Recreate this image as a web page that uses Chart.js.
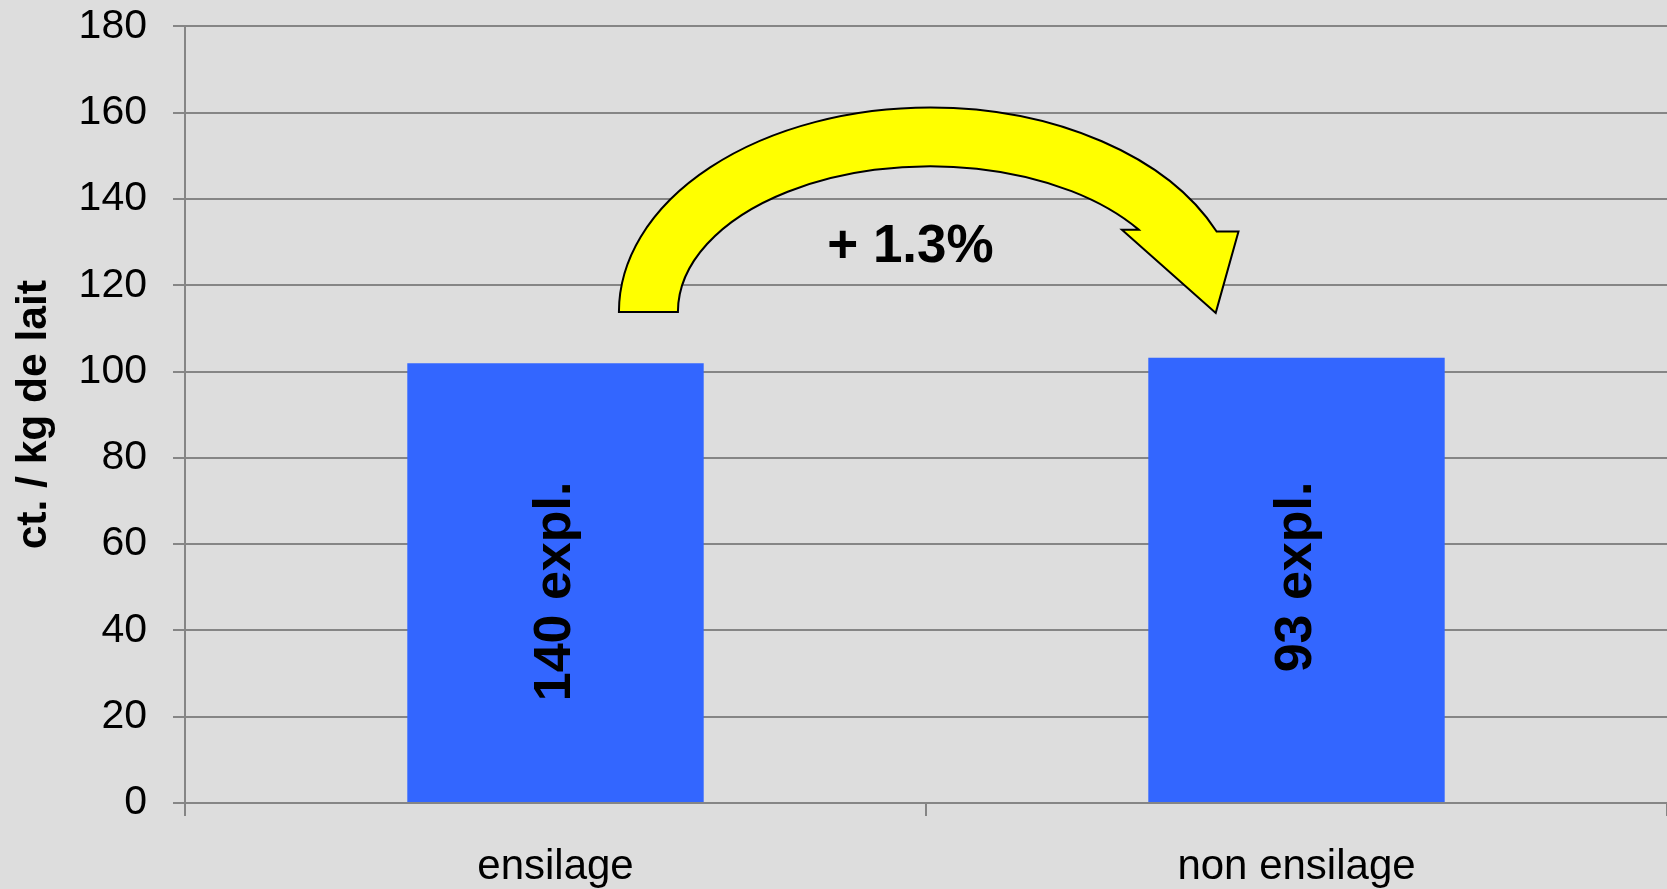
<!DOCTYPE html>
<html>
<head>
<meta charset="utf-8">
<script src="https://cdn.jsdelivr.net/npm/chart.js@4/dist/chart.umd.min.js"></script>
<style>
  html, body { margin: 0; padding: 0; background: #dddddd; }
  #wrap { width: 1667px; height: 889px; position: relative; }
</style>
</head>
<body>
<div id="wrap"><canvas id="c"></canvas></div>
<script>
// ---- data ----
const categories = ['ensilage', 'non ensilage'];
const costValues = [101.9, 103.2];
const farmCounts = ['140 expl.', '93 expl.'];
const yTickMin = 0;
const yTickMax = 180;
const yTickStep = 20;
const yAxisTitle = 'ct. / kg de lait';
const changeLabel = '+ 1.3%';

// ---- styles ----
const BG = '#dddddd';
const BAR = '#3366ff';
const GRID = '#858585';
const FONT = '"Liberation Sans", Arial, sans-serif';

const bgPlugin = {
  id: 'bg',
  beforeDraw(chart) {
    const ctx = chart.ctx;
    ctx.save();
    ctx.fillStyle = BG;
    ctx.fillRect(0, 0, chart.width, chart.height);
    ctx.restore();
  }
};

const annotPlugin = {
  id: 'annot',
  afterDatasetsDraw(chart) {
    const ctx = chart.ctx;
    const xs = chart.scales.x, ys = chart.scales.y;
    const X = v => xs.getPixelForValue(v);
    const Y = v => ys.getPixelForValue(v);

    // labels inside bars (rotated)
    const meta = chart.getDatasetMeta(0);
    ctx.save();
    ctx.fillStyle = '#000';
    ctx.font = 'bold 52px ' + FONT;
    meta.data.forEach((bar, i) => {
      ctx.save();
      ctx.translate(bar.x, Y(74.5));
      ctx.rotate(-Math.PI / 2);
      ctx.textAlign = 'right';
      ctx.textBaseline = 'middle';
      ctx.fillText(farmCounts[i], 0, 0);
      ctx.restore();
    });
    ctx.restore();

    // curved arrow
    const cx = X(0.5059), cy = Y(113.8);
    const rxO = cx - X(0.0856), ryO = cy - Y(161.2);
    const rxI = cx - X(0.1652), ryI = cy - Y(147.6);
    const aO = Math.acos((X(0.8922) - cx) / rxO);
    const aI = Math.acos((X(0.7870) - cx) / rxI);
    const endO = 2 * Math.PI - aO, endI = 2 * Math.PI - aI;
    const oy = cy + ryO * Math.sin(endO);
    const iy = cy + ryI * Math.sin(endI);

    ctx.save();
    ctx.beginPath();
    ctx.ellipse(cx, cy, rxO, ryO, 0, Math.PI, endO, false);
    ctx.lineTo(X(0.9217), oy);
    ctx.lineTo(X(0.8910), Y(113.6));
    ctx.lineTo(X(0.7644), iy);
    ctx.ellipse(cx, cy, rxI, ryI, 0, endI, Math.PI, true);
    ctx.closePath();
    ctx.fillStyle = '#ffff00';
    ctx.fill();
    ctx.lineWidth = 2;
    ctx.lineJoin = 'miter';
    ctx.strokeStyle = '#000';
    ctx.stroke();
    ctx.restore();

    // change label
    ctx.save();
    ctx.fillStyle = '#000';
    ctx.font = 'bold 53px ' + FONT;
    ctx.textAlign = 'center';
    ctx.textBaseline = 'alphabetic';
    ctx.fillText(changeLabel, X(0.479), Y(125.5));
    ctx.restore();
  }
};

new Chart(document.getElementById('c'), {
  type: 'bar',
  data: {
    labels: categories,
    datasets: [{
      data: costValues,
      backgroundColor: BAR,
      borderWidth: 0,
      barPercentage: 0.4,
      categoryPercentage: 1.0
    }]
  },
  options: {
    responsive: true,
    maintainAspectRatio: false,
    animation: false,
    events: [],
    layout: { padding: { top: 0, right: 0, bottom: 0, left: 0 } },
    plugins: {
      legend: { display: false },
      tooltip: { enabled: false },
      title: { display: false }
    },
    scales: {
      x: {
        offset: true,
        afterFit: s => { s.height = 86; },
        border: { display: true, color: GRID, width: 2 },
        grid: {
          display: true,
          drawOnChartArea: false,
          drawTicks: true,
          tickLength: 13,
          color: GRID,
          lineWidth: 2,
          offset: true
        },
        ticks: {
          color: '#000',
          padding: 26,
          font: { family: FONT, size: 42, lineHeight: 1.2 }
        }
      },
      y: {
        min: yTickMin,
        max: yTickMax,
        afterFit: s => { s.width = 185; },
        border: { display: true, color: GRID, width: 2 },
        grid: {
          color: GRID,
          lineWidth: 2,
          drawTicks: true,
          tickLength: 12
        },
        ticks: {
          stepSize: yTickStep,
          color: '#000',
          padding: 26,
          font: { family: FONT, size: 41, lineHeight: 0.02 }
        },
        title: {
          display: true,
          text: yAxisTitle,
          color: '#000',
          padding: { top: 9, bottom: 0 },
          font: { family: FONT, size: 42.5, weight: 'bold', lineHeight: 1.2 }
        }
      }
    }
  },
  plugins: [bgPlugin, annotPlugin]
});
</script>
</body>
</html>
